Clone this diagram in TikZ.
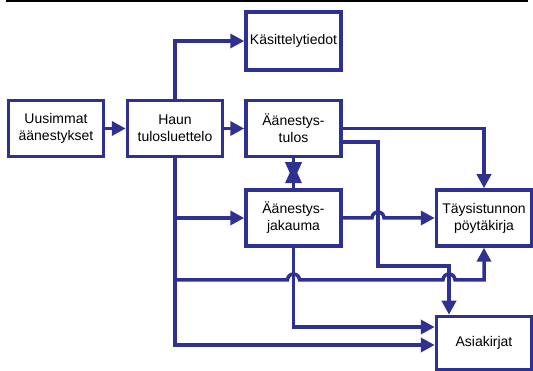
\documentclass[tikz,border=0pt]{standalone}
\usepackage{fontspec}
\setmainfont{Liberation Sans}
\usetikzlibrary{arrows.meta}
\definecolor{flowblue}{RGB}{46,49,146}

\begin{document}
\begin{tikzpicture}[x=1pt, y=-1pt, line width=3.5pt, draw=flowblue,
  >={Triangle[length=14pt,width=14pt]},
  box/.style={draw=flowblue, fill=white, text=black, minimum width=95pt,
    minimum height=56pt, align=center, font=\fontsize{14}{17}\selectfont},
  hop/.style={radius=6pt, start angle=180, end angle=0},
  star/.style={-{Triangle[length=19pt,width=16pt]}}]
\useasboundingbox (0,0) rectangle (533,371);

% Rule
\fill[black] (6,0) rectangle (528,2.5);

% Boxes
\node[box] (uus) at (56,128.5) {Uusimmat\\äänestykset};
\node[box] (haun) at (175,128.5) {Haun\\tulosluettelo};
\node[box] (tulos) at (293.5,128.5) {Äänestys-\\tulos};
\node[box, minimum height=58pt] (kas) at (293.5,41) {Käsittelytiedot};
\node[box] (jak) at (293.5,218) {Äänestys-\\jakauma};
\node[box] (tay) at (484,218) {Täysistunnon\\pöytäkirja};
\node[box, minimum height=53pt] (asia) at (484,343) {Asiakirjat};

% Corners
\coordinate (jb) at (175,280);
\coordinate (tk) at (378,266);

% Connections
\draw[->] (uus) -- (haun);
\draw[->] (haun) -- (tulos);
\draw[->] (haun.north) |- (kas.west);
\draw[->] (haun.south) |- (jak.west);
\draw[->] (haun.south) |- ([yshift=-2pt]asia.west);
\draw[->] (jb) -- (287.5,280) arc[hop] -- (443,280) arc[hop] -| (tay.south);
\draw[->] (tulos.east) -| (tay.north);
\draw[->] ([yshift=-13.5pt]tulos.east) -| (tk) -| ([xshift=-35pt]asia.north);
\draw[->] (jak.east) -- (372,218) arc[hop] -- (tay.west);
\draw[->] (jak.south) |- ([yshift=16pt]asia.west);
\draw[star, shorten >=6pt] (jak.north) -- (tulos.south);
\draw[star, shorten >=7pt] (tulos.south) -- (jak.north);
\end{tikzpicture}
\end{document}
